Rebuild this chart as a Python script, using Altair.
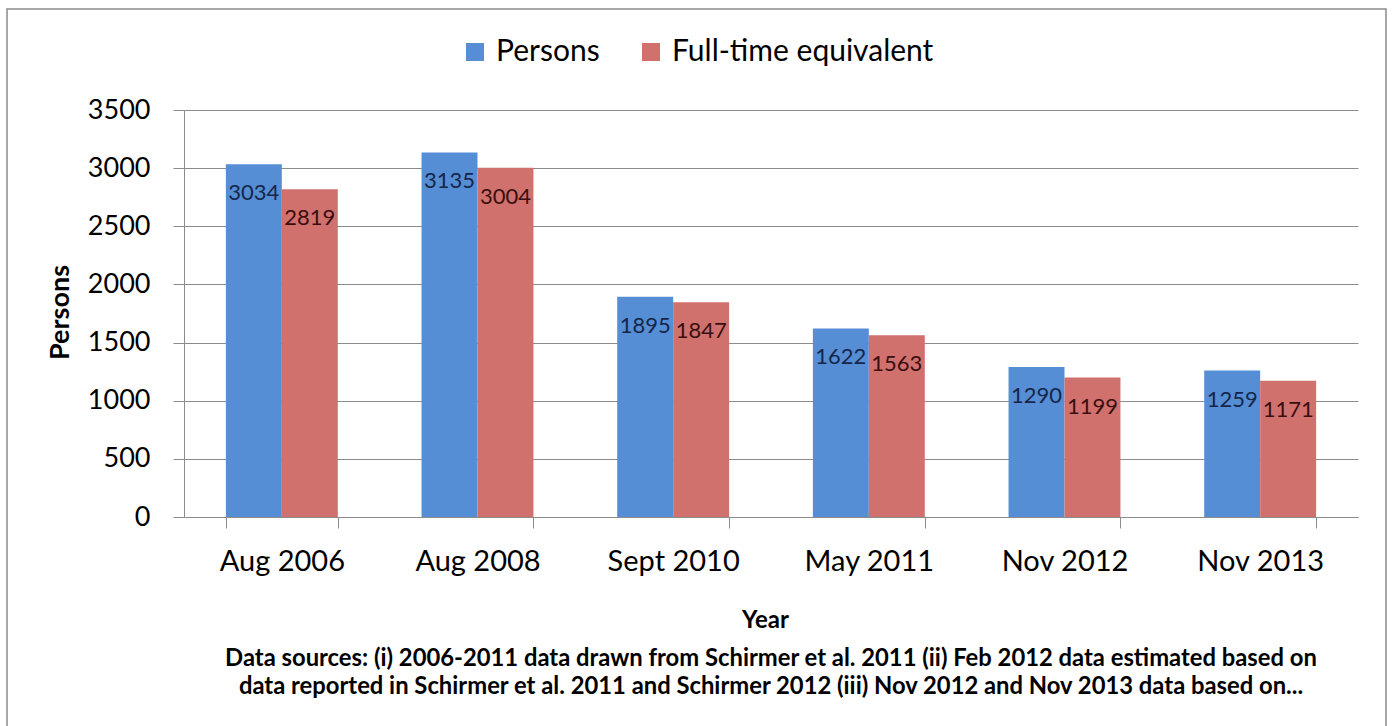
import altair as alt
import pandas as pd

# Staff numbers at each survey date
periods = ["Aug 2006", "Aug 2008", "Sept 2010", "May 2011", "Nov 2012", "Nov 2013"]
persons = [3034, 3135, 1895, 1622, 1290, 1259]
fte = [2819, 3004, 1847, 1563, 1199, 1171]
series_names = ["Persons", "Full-time equivalent"]
series_colors = ["#568ED5", "#D0716E"]
label_colors = ["#15264A", "#3A0E0E"]
y_ticks = [0, 500, 1000, 1500, 2000, 2500, 3000, 3500]

footnote = [
    "Data sources: (i) 2006-2011 data drawn from Schirmer et al. 2011 (ii) Feb 2012 data  estimated based on",
    "data reported in Schirmer et al. 2011 and Schirmer 2012 (iii) Nov 2012 and Nov 2013 data based on...",
]

rows = []
for p, a, b in zip(periods, persons, fte):
    rows.append({"period": p, "series": series_names[0], "value": a})
    rows.append({"period": p, "series": series_names[1], "value": b})
df = pd.DataFrame(rows)

FONT = "Lato"
GREY = "#8C8C8C"

x_enc = alt.X(
    "period:N",
    sort=periods,
    scale=alt.Scale(paddingInner=0.428, paddingOuter=0.214),
    axis=alt.Axis(
        title="Year",
        titleFont=FONT,
        titleFontSize=24,
        titleFontWeight="bold",
        titleColor="#000000",
        titleBaseline="alphabetic",
        titleX=581,
        titleY=110,
        labelFont=FONT,
        labelFontSize=29,
        labelColor="#000000",
        labelBaseline="alphabetic",
        labelPadding=42,
        labelAngle=0,
        tickBand="extent",
        tickSize=11,
        tickColor=GREY,
        domainColor=GREY,
        grid=False,
    ),
)
y_enc = alt.Y(
    "value:Q",
    scale=alt.Scale(domain=[0, 3500], nice=False),
    axis=alt.Axis(
        values=y_ticks,
        format="d",
        title="Persons",
        titleFont=FONT,
        titleFontSize=27,
        titleFontWeight="bold",
        titleColor="#000000",
        titleAngle=270,
        titleBaseline="alphabetic",
        titleAlign="center",
        titleX=-116,
        titleY=202,
        labelFont=FONT,
        labelFontSize=27,
        labelColor="#000000",
        labelPadding=23,
        tickSize=11,
        tickColor=GREY,
        domainColor=GREY,
        gridColor=GREY,
        grid=True,
    ),
)
color_enc = alt.Color(
    "series:N",
    sort=series_names,
    scale=alt.Scale(domain=series_names, range=series_colors),
    legend=alt.Legend(
        title=None,
        orient="none",
        direction="horizontal",
        legendX=276,
        legendY=-73,
        symbolType="square",
        symbolSize=324,
        symbolStrokeWidth=0,
        symbolOpacity=1,
        labelFont=FONT,
        labelFontSize=30,
        labelColor="#000000",
        labelOffset=6,
        labelLimit=0,
        columnPadding=36,
    ),
)

bars = alt.Chart(df).mark_bar(opacity=1).encode(
    x=x_enc,
    xOffset=alt.XOffset("series:N", sort=series_names, scale=alt.Scale(paddingInner=0, paddingOuter=0)),
    y=y_enc,
    color=color_enc,
)

labels = alt.Chart(df).mark_text(
    font=FONT, fontSize=22, baseline="alphabetic", align="center", dy=36
).encode(
    x=alt.X("period:N", sort=periods),
    xOffset=alt.XOffset("series:N", sort=series_names),
    y="value:Q",
    text="value:Q",
    color=alt.Color("series:N", scale=alt.Scale(domain=series_names, range=label_colors), legend=None),
)

# thin frame around the whole figure
frame = alt.Chart(pd.DataFrame({"k": [0]})).mark_rect(
    fill=None, stroke="#8A8A8A", strokeWidth=1.5
).encode(
    x=alt.value(7 - 184),
    x2=alt.value(1386 - 184),
    y=alt.value(9 - 110),
    y2=alt.value(760 - 110),
)

chart = (
    alt.layer(frame, bars, labels)
    .resolve_scale(color="independent")
    .properties(
        width=1174,
        height=407,
        autosize=alt.AutoSizeParams(type="none"),
        padding={"left": 184, "top": 110, "right": 34, "bottom": 209},
        title=alt.TitleParams(
            text=footnote,
            orient="bottom",
            anchor="middle",
            frame="group",
            font=FONT,
            fontSize=23.8,
            fontWeight="bold",
            color="#000000",
            lineHeight=28,
            offset=-114,
        ),
        background="#FFFFFF",
    )
    .configure_view(stroke=None)
)

chart.save("out.html", embed_options={"renderer": "svg", "actions": False})
